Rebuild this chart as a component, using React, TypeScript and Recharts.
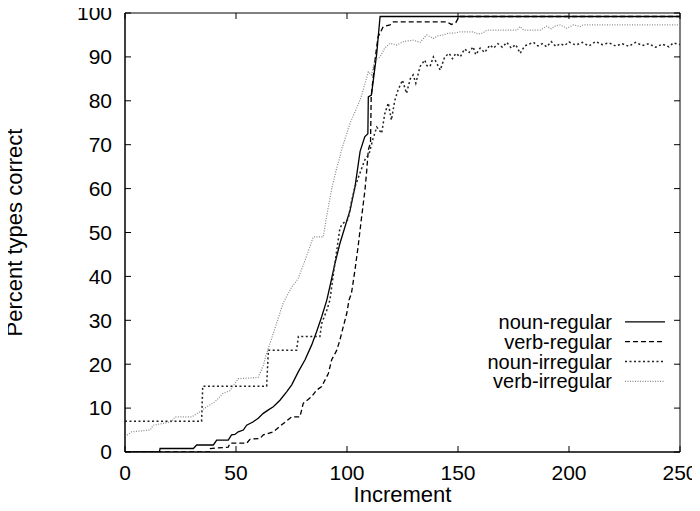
import React from 'react';
import { LineChart, Line, XAxis, YAxis, ReferenceArea, Legend } from 'recharts';

type Pt = { x: number; y: number };
const P = (arr: number[][]): Pt[] => arr.map(([x, y]) => ({ x, y }));

const xTicks = [0, 50, 100, 150, 200, 250];
const yTicks = [0, 10, 20, 30, 40, 50, 60, 70, 80, 90, 100];

const nounRegular = P([
  [0, 0], [15.5, 0], [15.8, 0.8], [30.8, 0.8], [32.3, 1.6], [39.8, 1.6], [41.3, 2.7], [46.5, 2.7],
  [48, 3.9], [49.5, 4], [51, 4.6], [53.3, 5], [54.8, 6.1], [57.8, 6.9], [60, 7.7], [62.3, 8.8],
  [64.6, 9.6], [66.8, 10.3], [69.8, 11.8], [72.8, 13.7], [75.1, 15.3], [78.1, 18.3], [81.1, 21],
  [84.1, 24.4], [86.3, 27.4], [88.6, 30.8], [90.9, 34.6], [92.3, 37.7], [94.6, 43], [96.8, 47.5],
  [99.1, 51.3], [101.4, 55.1], [103.6, 60.4], [105.9, 68.5], [108, 71.8], [109.4, 72.5], [109.6, 80.9],
  [111, 81.3], [113.4, 90.8], [114.9, 99.2], [250, 99.2],
]);

const verbRegular = P([
  [0, 0], [38.3, 0], [38.5, 0.8], [46.5, 1.1], [47.3, 2], [54.8, 2], [56.3, 2.9], [60.8, 3.1],
  [62.3, 3.9], [66.8, 4.6], [70.6, 6.2], [75.1, 8], [78.8, 8], [80.3, 11.1], [84.1, 12.6],
  [86.3, 14.1], [88.6, 14.9], [91.6, 17.9], [93.1, 21], [95.4, 23.2], [96.8, 25.5], [98.3, 28.5],
  [99.9, 31.6], [100.9, 34.6], [102, 36.1], [103.6, 41.5], [105, 46.8], [106.6, 53.6], [108.1, 59.7],
  [108.9, 64.2], [109.6, 68.8], [110.6, 70.5], [110.9, 81], [112.6, 89.3], [114, 94.6], [114.9, 95.4],
  [116.3, 96.9], [119.4, 97.3], [120.9, 98], [145, 98], [147, 97.4], [149, 97.8], [150.5, 99.2],
  [250, 99.2],
]);

const nounIrregular = P([
  [0, 7], [34.5, 7], [35, 15], [63.8, 15], [64.6, 23.2], [77.3, 23.2], [78.1, 26.3], [87.8, 26.3],
  [88.6, 29.3], [90.9, 32.3], [92.3, 34.6], [94, 41], [96.8, 51], [98, 52], [100.5, 53], [102, 57],
  [103.6, 60.4], [105.8, 63.5], [108, 66.5], [110, 68], [111.5, 71], [113.4, 74], [115.6, 72.6],
  [117, 77], [118.6, 79.5], [120, 75.6], [121.5, 80], [123, 82.5], [125, 84.7], [126.8, 81.7],
  [128.5, 85], [129.8, 85.9], [131, 84], [132.9, 87.8], [135, 89.3], [136, 88], [137.4, 87.8],
  [138.9, 90], [140, 89], [142, 87], [144, 90], [146, 90.8], [147.5, 89.6], [149, 90.8], [151, 90],
  [153, 91.8], [155, 91], [156.8, 92.3], [158, 90.5], [160, 92], [162, 91], [164.4, 92.7], [166, 92],
  [168, 93], [170, 92.2], [172, 93.3], [174, 92], [176, 92.8], [178, 90.8], [180, 92.5], [181, 92.7],
  [184, 93.3], [186, 92.5], [188, 93], [190, 92.3], [192, 93.5], [194, 92.4], [196, 93], [198, 92.6],
  [200, 93.4], [203, 92.7], [206, 93.3], [209, 92.5], [212, 93.5], [215, 92.8], [218, 93.2],
  [221, 92.5], [224, 93], [227, 92.4], [230, 93.3], [233, 92.6], [236, 93], [239, 92.2], [242, 92.9],
  [245, 92.3], [247, 93.2], [250, 92.8],
]);

const verbIrregular = P([
  [0, 3.5], [3, 4.6], [11.3, 5], [12.7, 6.1], [21, 6.9], [22.5, 8], [30, 8], [33.8, 9.2],
  [36.8, 10.3], [40.5, 11.4], [44, 13.3], [47.3, 14], [51, 16.7], [60, 17], [62.3, 19.7],
  [63.5, 22], [66.8, 27], [71.3, 34], [75, 37.5], [78, 39.5], [81, 43.5], [84.8, 49], [89.3, 49],
  [90.8, 53.6], [93, 59.7], [95, 64], [96.8, 67.3], [97.5, 68.8], [101.4, 74.9], [105.9, 80.2],
  [107.3, 82.5], [109.6, 86.6], [111, 85.9], [112.6, 89.3], [114.9, 90], [117, 92], [119.4, 93.1],
  [122.4, 92.7], [125.4, 93.5], [129.9, 93.8], [132.9, 93.3], [135.9, 95], [138.9, 94.2], [141, 94.8],
  [143.4, 95], [145.6, 95.4], [147.9, 95.4], [151, 95.7], [157, 95.7], [159, 95.2], [161, 95.4],
  [163, 96.1], [176.6, 96.1], [178, 96.9], [179.5, 96.1], [187, 96.1], [190, 97], [192, 96.4],
  [194, 97.1], [196, 97.3], [199, 96.5], [202, 97.3], [205, 96.9], [206.5, 97.3], [250, 97.3],
]);

const SERIES = [
  { name: 'noun-regular', data: nounRegular, stroke: '#000', width: 1.3, dash: undefined as string | undefined },
  { name: 'verb-regular', data: verbRegular, stroke: '#000', width: 1.3, dash: '5 3' },
  { name: 'noun-irregular', data: nounIrregular, stroke: '#222', width: 1.5, dash: '2 2.5' },
  { name: 'verb-irregular', data: verbIrregular, stroke: '#888', width: 1.2, dash: '1 1.5' },
];

const FONT = '"Liberation Sans", Arial, Helvetica, sans-serif';
const W = 700;
const H = 511;
const M = { top: 13, right: 20, left: 0, bottom: 0 };
const YW = 125;
const XH = 59;
const PLOT_TOP = M.top;
const PLOT_BOTTOM = H - XH;
const PLOT_LEFT = YW;
const PLOT_RIGHT = W - M.right;
const TICK = 6;
const ROW = 19.8;

const XTick = (props: any) => {
  const { x, y, payload } = props;
  return (
    <g>
      <line x1={x} y1={PLOT_BOTTOM} x2={x} y2={PLOT_BOTTOM - TICK} stroke="#000" />
      <line x1={x} y1={PLOT_TOP} x2={x} y2={PLOT_TOP + TICK} stroke="#000" />
      <text x={x} y={y + 21} dy="0.35em" textAnchor="middle" fontSize={21} fontFamily={FONT} fill="#000">
        {payload.value}
      </text>
    </g>
  );
};

const YTick = (props: any) => {
  const { x, y, payload } = props;
  return (
    <g>
      <line x1={PLOT_LEFT} y1={y} x2={PLOT_LEFT + TICK} y2={y} stroke="#000" />
      <line x1={PLOT_RIGHT} y1={y} x2={PLOT_RIGHT - TICK} y2={y} stroke="#000" />
      <text x={x - 13} y={y} dy="0.35em" textAnchor="end" fontSize={21} fontFamily={FONT} fill="#000">
        {payload.value}
      </text>
    </g>
  );
};

const renderLegend = () => (
  <svg width={257} height={ROW * 4} style={{ display: 'block', overflow: 'visible' }}>
    {SERIES.map((s, i) => {
      const cy = ROW * i + ROW / 2;
      return (
        <g key={s.name}>
          <text x={204} y={cy} dy="0.35em" textAnchor="end" fontSize={20} fontFamily={FONT} fill="#000">
            {s.name}
          </text>
          <line x1={217} y1={cy} x2={257} y2={cy} stroke={s.stroke} strokeWidth={s.width} strokeDasharray={s.dash} />
        </g>
      );
    })}
  </svg>
);

export default function App() {
  const cy = (PLOT_TOP + PLOT_BOTTOM) / 2;
  return (
    <div style={{ marginLeft: -8, marginTop: -8, width: W, height: H }}>
      <LineChart width={W} height={H} margin={M}>
        <XAxis
          dataKey="x"
          type="number"
          domain={[0, 250]}
          ticks={xTicks}
          allowDataOverflow
          height={XH}
          tickSize={0}
          tickMargin={0}
          tickLine={false}
          axisLine={{ stroke: '#000' }}
          tick={<XTick />}
          label={{
            content: () => (
              <text x={(PLOT_LEFT + PLOT_RIGHT) / 2} y={PLOT_BOTTOM + 42} dy="0.35em" textAnchor="middle" fontSize={22} fontFamily={FONT} fill="#000">
                Increment
              </text>
            ),
          }}
        />
        <YAxis
          type="number"
          domain={[0, 100]}
          ticks={yTicks}
          allowDataOverflow
          width={YW}
          tickSize={0}
          tickMargin={0}
          tickLine={false}
          axisLine={{ stroke: '#000' }}
          tick={<YTick />}
          label={{
            content: () => (
              <text x={14} y={cy} dy="0.35em" textAnchor="middle" fontSize={22} fontFamily={FONT} fill="#000" transform={`rotate(-90, 14, ${cy})`}>
                Percent types correct
              </text>
            ),
          }}
        />
        <ReferenceArea x1={0} x2={250} y1={0} y2={100} fill="none" stroke="#000" strokeWidth={1} ifOverflow="visible" />
        {SERIES.map((s) => (
          <Line
            key={s.name}
            name={s.name}
            data={s.data}
            dataKey="y"
            type="linear"
            dot={false}
            activeDot={false}
            stroke={s.stroke}
            strokeWidth={s.width}
            strokeDasharray={s.dash}
            isAnimationActive={false}
          />
        ))}
        <Legend
          layout="vertical"
          align="center"
          verticalAlign="middle"
          content={renderLegend}
          wrapperStyle={{ left: 408, top: 312, width: 257, height: ROW * 4 }}
        />
      </LineChart>
    </div>
  );
}
